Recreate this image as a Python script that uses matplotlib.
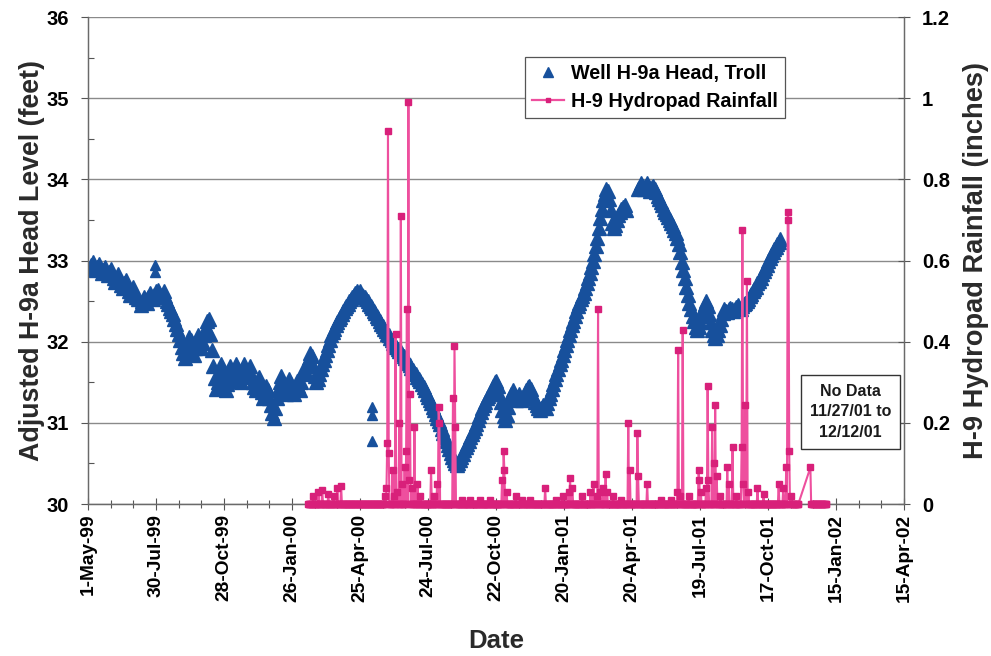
import numpy as np
import pandas as pd
import matplotlib
matplotlib.use("Agg")
import matplotlib.pyplot as plt
from matplotlib.lines import Line2D
from matplotlib.ticker import FixedLocator, MultipleLocator, NullFormatter
import matplotlib.dates as mdates

plt.rcParams['font.family'] = ['Liberation Sans', 'DejaVu Sans']
plt.rcParams['font.weight'] = 'bold'

# ---------------------------------------------------------------
# Well H-9a adjusted head (feet), readings every 2 days
# ---------------------------------------------------------------
head1_start = "1999-05-03"
head1 = [32.90, 32.95, 32.98, 32.93, 32.88, 32.92, 32.96, 32.90, 32.85, 32.88,
         32.92, 32.86, 32.82, 32.86, 32.90, 32.84, 32.78, 32.74, 32.80, 32.84,
         32.76, 32.70, 32.66, 32.72, 32.76, 32.68, 32.62, 32.58, 32.64, 32.68,
         32.60, 32.55, 32.52]

head2_start = "1999-07-10"
head2 = [32.45, 32.50, 32.55, 32.52, 32.48, 32.55, 32.60, 32.56, 32.52, 32.58,
         32.62, 32.64, 32.60, 32.55, 32.58, 32.62, 32.56, 32.50, 32.46, 32.42,
         32.38, 32.34, 32.28, 32.22, 32.16, 32.10, 32.02, 31.94, 31.86, 31.80,
         31.88, 31.98, 32.06, 32.02, 31.92, 31.84, 31.92, 32.02, 32.08, 32.00,
         31.92, 31.98, 32.08, 32.18, 32.26, 32.28, 32.10, 31.90, 31.70, 31.55,
         31.42, 31.50, 31.62, 31.72, 31.62, 31.50, 31.40, 31.48, 31.60, 31.70,
         31.62, 31.52, 31.60, 31.72, 31.66, 31.56, 31.50, 31.60, 31.72, 31.64,
         31.56, 31.62, 31.70, 31.60, 31.50, 31.44, 31.40, 31.48, 31.56, 31.48,
         31.38, 31.30, 31.36, 31.46, 31.40, 31.30, 31.22, 31.12, 31.06, 31.18,
         31.30, 31.40, 31.50, 31.58, 31.50, 31.40, 31.36, 31.44, 31.54, 31.48,
         31.40, 31.36, 31.44, 31.52, 31.46, 31.40, 31.50, 31.60, 31.68, 31.62,
         31.72, 31.80, 31.86, 31.82, 31.70, 31.58, 31.50, 31.54, 31.60, 31.66,
         31.72, 31.78, 31.84, 31.90, 31.96, 32.02, 32.08, 32.12, 32.16, 32.20,
         32.24, 32.28, 32.31, 32.34, 32.38, 32.41, 32.44, 32.47, 32.50, 32.52,
         32.55, 32.57, 32.60, 32.62, 32.60, 32.62, 32.58, 32.56, 32.55, 32.52,
         32.50, 32.47, 32.44, 32.41, 32.38, 32.35, 32.32, 32.29, 32.26, 32.22,
         32.19, 32.16, 32.13, 32.10, 32.08, 32.05, 32.02, 31.99, 31.96, 31.93,
         31.91, 31.89, 31.87, 31.85, 31.82, 31.80, 31.77, 31.74, 31.71, 31.68,
         31.65, 31.62, 31.60, 31.57, 31.54, 31.51, 31.48, 31.44, 31.40, 31.36,
         31.32, 31.28, 31.24, 31.20, 31.16, 31.11, 31.06, 31.02, 30.98, 30.93,
         30.88, 30.83, 30.78, 30.73, 30.68, 30.63, 30.58, 30.54, 30.50, 30.48,
         30.50, 30.54, 30.58, 30.62, 30.66, 30.70, 30.74, 30.78, 30.82, 30.86,
         30.90, 30.94, 30.98, 31.03, 31.08, 31.13, 31.18, 31.22, 31.26, 31.30,
         31.33, 31.36, 31.40, 31.45, 31.50, 31.52, 31.45, 31.36, 31.26, 31.16,
         31.08, 31.04, 31.10, 31.20, 31.30, 31.36, 31.40, 31.34, 31.28, 31.32,
         31.36, 31.32, 31.28, 31.32, 31.36, 31.40, 31.44, 31.46, 31.42, 31.36,
         31.30, 31.26, 31.22, 31.18, 31.16, 31.18, 31.22, 31.20, 31.18, 31.24,
         31.30, 31.36, 31.42, 31.48, 31.54, 31.60, 31.66, 31.72, 31.78, 31.84,
         31.90, 31.96, 32.02, 32.08, 32.14, 32.20, 32.26, 32.32, 32.38, 32.44,
         32.48, 32.52, 32.56, 32.60, 32.66, 32.72, 32.78, 32.85, 32.92, 33.00,
         33.08, 33.18, 33.28, 33.40, 33.52, 33.64, 33.74, 33.82, 33.88, 33.86,
         33.76, 33.62, 33.46, 33.40, 33.44, 33.50, 33.56, 33.60, 33.64, 33.66,
         33.68, 33.62]

head3_start = "2001-04-28"
head3 = [33.88, 33.92, 33.95, 33.92, 33.88, 33.92, 33.95, 33.90, 33.86, 33.90,
         33.92, 33.88, 33.84, 33.80, 33.76, 33.72, 33.68, 33.64, 33.60, 33.57,
         33.54, 33.50, 33.46, 33.42, 33.38, 33.34, 33.28, 33.20, 33.10, 32.98,
         32.88, 32.78, 32.68, 32.58, 32.48, 32.40, 32.32, 32.25, 32.18, 32.14,
         32.18, 32.24, 32.32, 32.40, 32.46, 32.50, 32.44, 32.34, 32.24, 32.14,
         32.08, 32.05, 32.08, 32.14, 32.20, 32.28, 32.35, 32.40, 32.38, 32.36,
         32.40, 32.42, 32.40, 32.38, 32.40, 32.43, 32.45, 32.42, 32.40, 32.44,
         32.46, 32.48, 32.50, 32.53, 32.56, 32.59, 32.62, 32.65, 32.68, 32.72,
         32.75, 32.79, 32.83, 32.87, 32.91, 32.95, 32.99, 33.03, 33.07, 33.11,
         33.14, 33.17, 33.20, 33.23, 33.26]

# isolated readings
head_extra_dates = ["1999-07-29", "1999-07-29", "2000-05-11", "2000-05-11", "2000-05-11"]
head_extra = [32.95, 32.86, 31.20, 31.10, 30.78]

# ---------------------------------------------------------------
# H-9 hydropad daily rainfall (inches); days not listed had no rain
# ---------------------------------------------------------------
rain_periods = [("2000-02-16", "2001-11-26"), ("2001-12-12", "2002-01-02")]
rain_event_dates = [
    "2000-02-23", "2000-03-01", "2000-03-06", "2000-03-14", "2000-03-21",
    "2000-03-26", "2000-03-31", "2000-05-28", "2000-05-30", "2000-05-31",
    "2000-06-01", "2000-06-02", "2000-06-07", "2000-06-09", "2000-06-11",
    "2000-06-13", "2000-06-16", "2000-06-18", "2000-06-20", "2000-06-23",
    "2000-06-25", "2000-06-26", "2000-06-28", "2000-06-29", "2000-06-30",
    "2000-07-03", "2000-07-06", "2000-07-10", "2000-07-14", "2000-07-28",
    "2000-08-01", "2000-08-05", "2000-08-07", "2000-08-08", "2000-08-26",
    "2000-08-28", "2000-08-29", "2000-09-07", "2000-09-18", "2000-10-01",
    "2000-10-14", "2000-10-30", "2000-11-01", "2000-11-02", "2000-11-05",
    "2000-11-17", "2000-11-26", "2000-12-06", "2000-12-26", "2001-01-09",
    "2001-01-18", "2001-01-26", "2001-01-28", "2001-01-31", "2001-02-13",
    "2001-02-24", "2001-02-28", "2001-03-04", "2001-03-06", "2001-03-09",
    "2001-03-13", "2001-03-16", "2001-03-18", "2001-03-26", "2001-04-05",
    "2001-04-15", "2001-04-17", "2001-04-27", "2001-04-28", "2001-05-10",
    "2001-05-28", "2001-06-10", "2001-06-19", "2001-06-20", "2001-06-23",
    "2001-06-26", "2001-07-04", "2001-07-17", "2001-07-18", "2001-07-20",
    "2001-07-27", "2001-07-29", "2001-07-30", "2001-08-04", "2001-08-06",
    "2001-08-08", "2001-08-10", "2001-08-15", "2001-08-24", "2001-08-26",
    "2001-08-31", "2001-09-05", "2001-09-12", "2001-09-13", "2001-09-14",
    "2001-09-17", "2001-09-19", "2001-09-21", "2001-10-03", "2001-10-11",
    "2001-10-31", "2001-11-06", "2001-11-10", "2001-11-12", "2001-11-13",
    "2001-11-14", "2001-11-17", "2001-12-12",
]
rain_event_inches = [
    0.02, 0.03, 0.035, 0.025, 0.02,
    0.04, 0.045, 0.02, 0.04, 0.15,
    0.92, 0.125, 0.085, 0.02, 0.42,
    0.03, 0.20, 0.71, 0.05, 0.09,
    0.13, 0.48, 0.99, 0.06, 0.27,
    0.04, 0.19, 0.05, 0.02, 0.085,
    0.02, 0.05, 0.24, 0.20, 0.26,
    0.39, 0.19, 0.01, 0.01, 0.01,
    0.01, 0.06, 0.13, 0.085, 0.03,
    0.02, 0.01, 0.01, 0.04, 0.01,
    0.02, 0.03, 0.065, 0.04, 0.02,
    0.03, 0.05, 0.02, 0.48, 0.03,
    0.04, 0.075, 0.03, 0.02, 0.01,
    0.20, 0.085, 0.175, 0.07, 0.05,
    0.01, 0.01, 0.03, 0.38, 0.02,
    0.43, 0.02, 0.085, 0.06, 0.03,
    0.04, 0.29, 0.06, 0.19, 0.10,
    0.245, 0.07, 0.02, 0.09, 0.05,
    0.14, 0.02, 0.14, 0.675, 0.05,
    0.245, 0.55, 0.03, 0.04, 0.025,
    0.05, 0.04, 0.09, 0.72, 0.70,
    0.13, 0.02, 0.09,
]

x_start, x_end = "1999-05-01", "2002-04-15"
head_ticks = [30, 31, 32, 33, 34, 35, 36]
rain_ticks = [0, 0.2, 0.4, 0.6, 0.8, 1.0, 1.2]
rain_tick_labels = ["0", "0.2", "0.4", "0.6", "0.8", "1", "1.2"]

# ---------------------------------------------------------------
BLUE = "#17509c"
PINK_LINE = "#ee4f9e"
PINK_MARK = "#d8207a"
GRID = "#8a8a8a"

fig = plt.figure(figsize=(9.91, 6.56), dpi=100)
ax = fig.add_axes([0.0888, 0.2317, 0.8235, 0.7423])
ax2 = ax.twinx()

# head record
for start, vals in [(head1_start, head1), (head2_start, head2), (head3_start, head3)]:
    d = pd.date_range(start, periods=len(vals), freq="2D")
    ax.plot(d, vals, linestyle="none", marker="^", markersize=9.5,
            color=BLUE, markeredgecolor=BLUE, zorder=3)
ax.plot(pd.to_datetime(head_extra_dates), head_extra, linestyle="none",
        marker="^", markersize=7, color=BLUE, markeredgecolor=BLUE, zorder=3)

# rainfall record
rain_dates = pd.DatetimeIndex(np.concatenate(
    [pd.date_range(a, b, freq="D").values for a, b in rain_periods]))
rain = pd.Series(0.0, index=rain_dates)
rain.loc[pd.to_datetime(rain_event_dates)] = rain_event_inches
ax2.plot(rain.index, rain.values, color=PINK_LINE, linewidth=1.5,
         marker="s", markersize=3.8, markerfacecolor=PINK_MARK,
         markeredgecolor=PINK_MARK, zorder=4, clip_on=False)

# axes ranges and ticks
ax.set_xlim(pd.Timestamp(x_start), pd.Timestamp(x_end))
ax.set_ylim(30, 36)
ax2.set_ylim(0, 1.2)

major_dates = pd.date_range(x_start, x_end, freq="90D")
minor_dates = pd.date_range(x_start, x_end, freq="30D")
ax.xaxis.set_major_locator(FixedLocator(mdates.date2num(major_dates)))
ax.xaxis.set_minor_locator(FixedLocator(mdates.date2num(minor_dates)))
ax.set_xticklabels([f"{d.day}-{d.strftime('%b-%y')}" for d in major_dates],
                   rotation=90, fontsize=13.8, fontweight="bold")
ax.xaxis.set_minor_formatter(NullFormatter())

ax.yaxis.set_major_locator(FixedLocator(head_ticks))
ax.yaxis.set_minor_locator(MultipleLocator(0.5))
ax.set_yticklabels([str(t) for t in head_ticks], fontsize=14.5, fontweight="bold")
ax2.yaxis.set_major_locator(FixedLocator(rain_ticks))
ax2.set_yticklabels(rain_tick_labels, fontsize=14.5, fontweight="bold")

ax.tick_params(axis="x", which="major", direction="inout", length=8, width=0.8,
               color="#555555", pad=3)
ax.tick_params(axis="x", which="minor", direction="inout", length=6, width=0.8,
               color="#555555")
ax.tick_params(axis="y", which="major", direction="out", length=5, width=0.8,
               color="#555555", pad=9)
ax.tick_params(axis="y", which="minor", direction="in", length=4, width=0.8,
               color="#555555")
ax2.tick_params(axis="y", which="major", direction="inout", length=8, width=0.8,
                color="#555555", pad=9)

ax.yaxis.grid(True, which="major", color=GRID, linewidth=1.0)
ax.set_axisbelow(True)

for a in (ax, ax2):
    for s in a.spines.values():
        s.set_color("#6a6a6a")
        s.set_linewidth(0.9)
    a.spines["top"].set_visible(False)

# axis titles
label_kw = dict(fontweight="bold", color="#2a2a2a")
ax.set_ylabel("Adjusted H-9a Head Level (feet)", fontsize=19.3, **label_kw)
ax.yaxis.set_label_coords(-0.053, 0.5)
ax2.set_ylabel("H-9 Hydropad Rainfall (inches)", rotation=90, fontsize=19.6, **label_kw)
ax2.yaxis.set_label_coords(1.072, 0.5)
ax.set_xlabel("Date", fontsize=18.5, **label_kw)
ax.xaxis.set_label_coords(0.5, -0.257)

# legend
handles = [
    Line2D([], [], linestyle="none", marker="^", markersize=7, color=BLUE),
    Line2D([], [], color=PINK_LINE, linewidth=1.6, marker="s", markersize=3.5,
           markerfacecolor=PINK_MARK, markeredgecolor=PINK_MARK),
]
leg = ax2.legend(handles, ["Well H-9a Head, Troll", "H-9 Hydropad Rainfall"],
                 loc="upper left", bbox_to_anchor=(0.536, 0.918),
                 prop={"size": 14.2, "weight": "bold"}, frameon=True,
                 fancybox=False, edgecolor="#555555", framealpha=1,
                 handlelength=1.6, handletextpad=0.35, borderpad=0.35,
                 labelspacing=0.45, borderaxespad=0)
leg.get_frame().set_linewidth(0.9)

# note on missing record
ax2.text(0.934, 0.189, "No Data\n11/27/01 to\n12/12/01", transform=ax2.transAxes,
         ha="center", va="center", fontsize=11.5, fontweight="bold",
         linespacing=1.45, color="#1a1a1a",
         bbox=dict(boxstyle="square,pad=0.55", facecolor="white",
                   edgecolor="#333333", linewidth=1.0))

fig.savefig("out.png", dpi=100)
